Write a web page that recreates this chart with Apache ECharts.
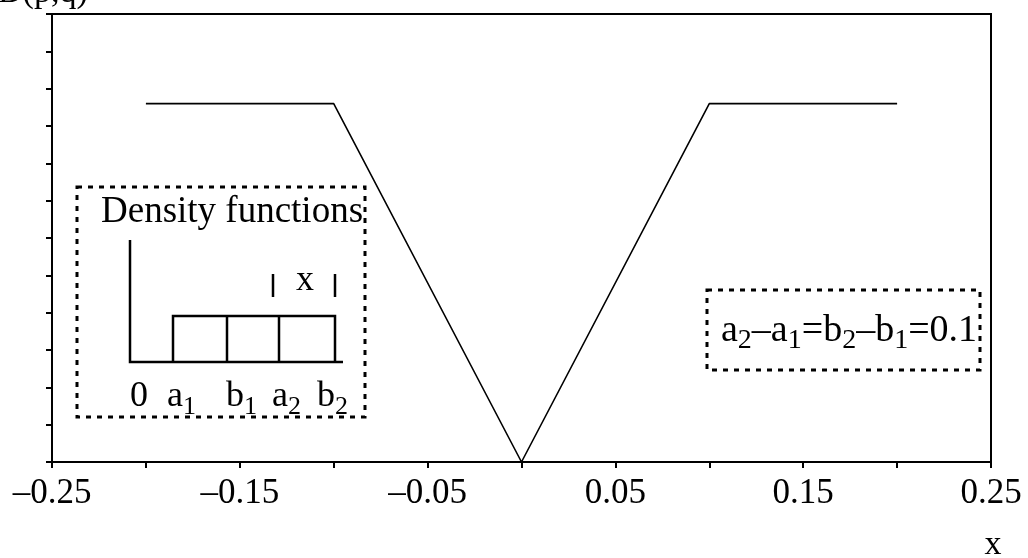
<!DOCTYPE html>
<html>
<head>
<meta charset="utf-8">
<script src="https://cdn.jsdelivr.net/npm/echarts@6/dist/echarts.min.js"></script>
<style>
  html, body { margin: 0; padding: 0; background: #fff; }
  #chart { width: 1028px; height: 558px; }
</style>
</head>
<body>
<div id="chart"></div>
<script>
// Divergence D(p,q) against the shift x of the second density
const xValues = [-0.2, -0.1, 0, 0.1, 0.2];
const dValues = [0.96, 0.96, 0, 0.96, 0.96];
const xTickLabels = ['-0.25', '-0.15', '-0.05', '0.05', '0.15', '0.25'];

const serif = "'Liberation Serif', 'Times New Roman', serif";
const chart = echarts.init(document.getElementById('chart'), null, { renderer: 'canvas' });

function tickLabel(v) {
  const hit = xTickLabels.find(t => Math.abs(parseFloat(t) - v) < 1e-9);
  return hit ? hit.replace('-', '\u2013') : '';
}

const dash = { stroke: '#000', fill: null, lineWidth: 3, lineDash: [5, 6] };
const solid = { stroke: '#000', lineWidth: 2.5 };
// normal text and subscripts pushed down by top padding
const rich = {
  n: { fontFamily: serif, fontSize: 36, color: '#000', verticalAlign: 'top' },
  s: { fontFamily: serif, fontSize: 26, color: '#000', verticalAlign: 'top', padding: [15, 0, 0, 0] }
};
const richEq = {
  n: { fontFamily: serif, fontSize: 38, color: '#000', verticalAlign: 'top' },
  s: { fontFamily: serif, fontSize: 28, color: '#000', verticalAlign: 'top', padding: [15, 0, 0, 0] }
};

chart.setOption({
  animation: false,
  backgroundColor: '#fff',
  grid: { left: 52, right: 37, top: 14, bottom: 96, show: true, borderColor: '#000', borderWidth: 2 },
  xAxis: {
    type: 'value', min: -0.25, max: 0.25, interval: 0.05,
    axisLine: { onZero: false, lineStyle: { color: '#000', width: 2 } },
    axisTick: { show: true, length: 6, lineStyle: { color: '#000', width: 2 } },
    splitLine: { show: false },
    axisLabel: { formatter: tickLabel, color: '#000', fontFamily: serif, fontSize: 35, margin: 14, showMinLabel: true, showMaxLabel: true }
  },
  yAxis: {
    type: 'value', min: 0, max: 1.2, interval: 0.1,
    axisLine: { show: true, onZero: false, lineStyle: { color: '#000', width: 2 } },
    axisTick: { show: true, length: 6, lineStyle: { color: '#000', width: 2 } },
    splitLine: { show: false },
    axisLabel: { show: false }
  },
  series: [{
    type: 'line',
    data: xValues.map((x, i) => [x, dValues[i]]),
    symbol: 'none',
    lineStyle: { color: '#000', width: 1.6 }
  }],
  graphic: [
    { type: 'text', left: -2, top: -24, style: { text: 'D(p,q)', font: '34px ' + serif, fill: '#000' } },
    { type: 'text', x: 993, y: 545, style: { text: 'x', font: '34px ' + serif, fill: '#000', align: 'center', verticalAlign: 'middle' } },

    // density sketch
    { type: 'rect', shape: { x: 77, y: 187, width: 288, height: 230 }, style: dash },
    { type: 'text', x: 101, y: 212, style: { text: 'Density functions', font: '37px ' + serif, fill: '#000', verticalAlign: 'middle' } },
    { type: 'polyline', shape: { points: [[130, 240], [130, 362], [343, 362]] }, style: { stroke: '#000', lineWidth: 2.5, fill: null } },
    { type: 'polyline', shape: { points: [[173, 362], [173, 316], [335, 316], [335, 362]] }, style: { stroke: '#000', lineWidth: 2.5, fill: null } },
    { type: 'line', shape: { x1: 227, y1: 316, x2: 227, y2: 362 }, style: solid },
    { type: 'line', shape: { x1: 279, y1: 316, x2: 279, y2: 362 }, style: solid },
    { type: 'line', shape: { x1: 273, y1: 274, x2: 273, y2: 297 }, style: solid },
    { type: 'line', shape: { x1: 335, y1: 274, x2: 335, y2: 297 }, style: solid },
    { type: 'text', x: 305, y: 281, style: { text: 'x', font: '36px ' + serif, fill: '#000', align: 'center', verticalAlign: 'middle' } },
    { type: 'text', x: 130, y: 379, style: { text: '{n|0}', rich: rich } },
    { type: 'text', x: 167, y: 379, style: { text: '{n|a}{s|1}', rich: rich } },
    { type: 'text', x: 226, y: 379, style: { text: '{n|b}{s|1}', rich: rich } },
    { type: 'text', x: 272, y: 379, style: { text: '{n|a}{s|2}', rich: rich } },
    { type: 'text', x: 317, y: 379, style: { text: '{n|b}{s|2}', rich: rich } },

    // spacing note
    { type: 'rect', shape: { x: 707, y: 290, width: 273, height: 80 }, style: dash },
    { type: 'text', x: 721, y: 312, style: { text: '{n|a}{s|2}{n|\u2013a}{s|1}{n|=b}{s|2}{n|\u2013b}{s|1}{n|=0.1}', rich: richEq } }
  ]
});
</script>
</body>
</html>
